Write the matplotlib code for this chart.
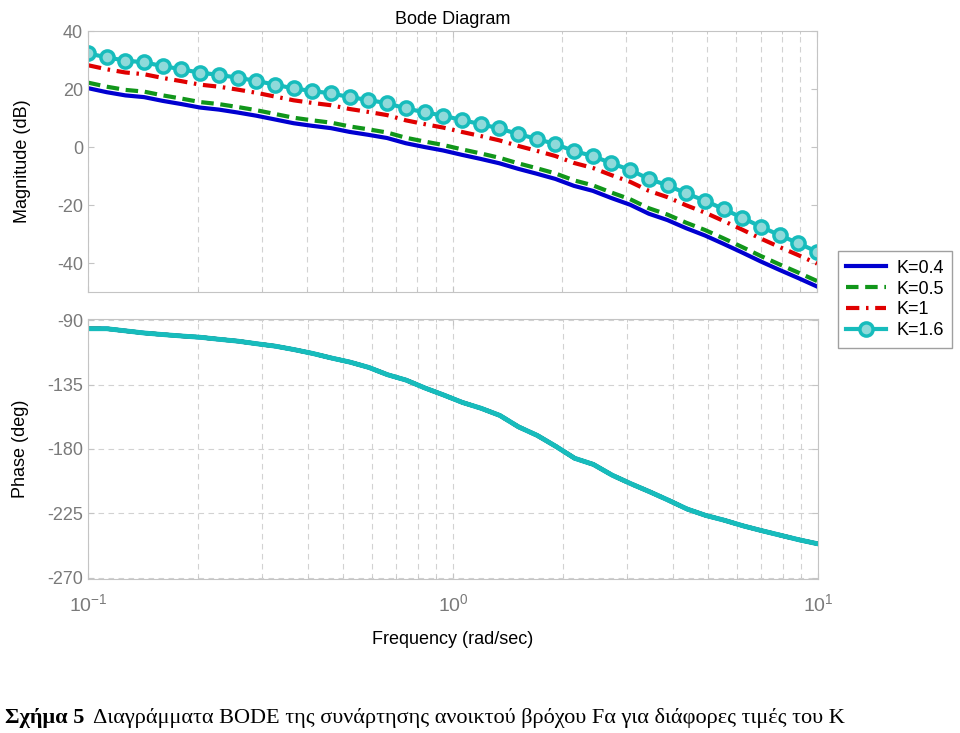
import numpy as np
import matplotlib
matplotlib.use("Agg")
import matplotlib.pyplot as plt
from matplotlib.ticker import LogLocator, NullFormatter

# frequency points (rad/sec), 40 log-spaced samples between 0.1 and 10
freq = np.logspace(-1, 1, 40)

labels = ["K=0.4", "K=0.5", "K=1", "K=1.6"]

mag_k04 = [20.3, 18.9, 17.8, 17.2, 15.9, 14.8, 13.6, 12.9, 11.9, 10.8,
           9.5, 8.2, 7.3, 6.5, 5.2, 4.2, 3.1, 1.3, 0.0, -1.2,
           -2.7, -4.1, -5.6, -7.5, -9.2, -11.0, -13.4, -15.1, -17.6, -19.9,
           -23.0, -25.2, -28.0, -30.5, -33.4, -36.4, -39.5, -42.4, -45.2, -48.1]
mag_k05 = [22.2, 20.8, 19.7, 19.1, 17.8, 16.7, 15.5, 14.8, 13.8, 12.7,
           11.4, 10.1, 9.2, 8.4, 7.1, 6.1, 5.0, 3.2, 1.9, 0.7,
           -0.8, -2.2, -3.7, -5.6, -7.3, -9.1, -11.5, -13.2, -15.7, -18.0,
           -21.1, -23.3, -26.1, -28.6, -31.5, -34.5, -37.6, -40.5, -43.3, -46.2]
mag_k1 = [28.2, 26.8, 25.7, 25.1, 23.8, 22.7, 21.5, 20.8, 19.8, 18.7,
          17.4, 16.1, 15.2, 14.4, 13.1, 12.1, 11.0, 9.2, 7.9, 6.7,
          5.2, 3.8, 2.3, 0.4, -1.3, -3.1, -5.5, -7.2, -9.7, -12.0,
          -15.1, -17.3, -20.1, -22.6, -25.5, -28.5, -31.6, -34.5, -37.3, -40.2]
mag_k16 = [32.3, 30.9, 29.8, 29.2, 27.9, 26.8, 25.6, 24.9, 23.9, 22.8,
           21.5, 20.2, 19.3, 18.5, 17.2, 16.2, 15.1, 13.3, 12.0, 10.8,
           9.3, 7.9, 6.4, 4.5, 2.8, 1.0, -1.4, -3.1, -5.6, -7.9,
           -11.0, -13.2, -16.0, -18.5, -21.4, -24.4, -27.5, -30.4, -33.2, -36.1]

# phase is the same for every K
phase = [-95.8, -95.8, -97.3, -98.8, -99.9, -100.9, -101.8, -103.2, -104.5, -106.3,
         -108.0, -110.4, -113.1, -116.3, -119.2, -122.9, -128.0, -131.8, -137.3, -142.2,
         -147.4, -151.5, -156.5, -164.5, -170.5, -178.2, -186.5, -190.8, -198.3, -204.3,
         -209.9, -215.8, -222.0, -226.5, -229.9, -233.8, -237.2, -240.4, -243.6, -246.4]

mags = [mag_k04, mag_k05, mag_k1, mag_k16]
colors = ["#0000d0", "#11961a", "#e00000", "#17bcbc"]
styles = ["-", (0, (3.0, 1.6)), (0, (3.2, 1.6, 0.6, 1.6)), "-"]

plt.rcParams["font.family"] = ["Liberation Sans", "DejaVu Sans"]
plt.rcParams["axes.unicode_minus"] = False
gray = "#7a7a7a"
edge = "#c4c4c4"

fig = plt.figure(figsize=(9.6, 7.33), dpi=100)
ax1 = fig.add_axes([0.0917, 0.6016, 0.7594, 0.3561])
ax2 = fig.add_axes([0.0917, 0.2101, 0.7604, 0.3547])

handles = []
for m, c, ls, lab in zip(mags, colors, styles, labels):
    if lab == "K=1.6":
        h, = ax1.plot(freq, m, color=c, lw=3, ls=ls, marker="o", ms=9.5,
                      mfc="#8fdada", mec=c, mew=2.5, label=lab)
    else:
        h, = ax1.plot(freq, m, color=c, lw=3, ls=ls, label=lab)
    handles.append(h)
    ax2.plot(freq, phase, color=c, lw=3, ls=ls)
# cyan phase on top
ax2.plot(freq, phase, color=colors[3], lw=3.5)

for ax in (ax1, ax2):
    ax.set_xscale("log")
    ax.set_xlim(0.1, 10)
    ax.xaxis.set_major_locator(LogLocator(base=10))
    ax.xaxis.set_minor_locator(LogLocator(base=10, subs=np.arange(2, 10)))
    ax.xaxis.set_minor_formatter(NullFormatter())
    ax.grid(True, which="both", axis="x", ls=(0, (5, 4)), color="#d2d2d2", lw=0.8)
    for s in ax.spines.values():
        s.set_color(edge)
    ax.tick_params(which="both", colors=edge, labelcolor=gray, labelsize=13,
                   direction="in", top=True, right=True, length=4)
    ax.tick_params(which="minor", length=2)

ax1.set_ylim(-50, 40)
ax1.set_yticks([40, 20, 0, -20, -40])
ax1.tick_params(labelbottom=False)
ax1.set_ylabel("Magnitude (dB)", fontsize=13, labelpad=19)
ax1.set_title("Bode Diagram", fontsize=13, pad=5)

ax2.set_ylim(-271, -89)
ax2.set_yticks([-90, -135, -180, -225, -270])
ax2.grid(True, which="major", axis="y", ls=(0, (5, 4)), color="#d2d2d2", lw=0.8)
ax2.set_ylabel("Phase (deg)", fontsize=13, labelpad=13)
ax2.set_xlabel("Frequency (rad/sec)", fontsize=13, labelpad=12)
ax2.tick_params(axis="x", pad=10, labelsize=14)

fig.legend(handles=handles, loc="upper left", bbox_to_anchor=(0.873, 0.657),
           fontsize=13, frameon=True, fancybox=False, edgecolor="#888888",
           handlelength=2.2, labelspacing=0.22, borderpad=0.45, handletextpad=0.6,
           borderaxespad=0)

fig.text(0.005, 0.0136, "Σχήμα 5", fontsize=16, fontweight="bold",
         family="Liberation Serif", va="baseline")
fig.text(0.097, 0.0136, "Διαγράμματα BODE της συνάρτησης ανοικτού βρόχου Fα για διάφορες τιμές του Κ",
         fontsize=16, family="Liberation Serif", va="baseline")

fig.savefig("out.png", dpi=100)
